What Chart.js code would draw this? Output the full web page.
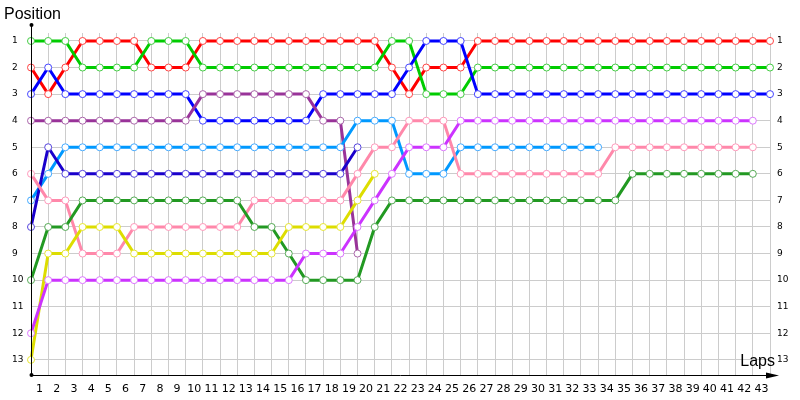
<!DOCTYPE html>
<html>
<head>
<meta charset="utf-8">
<script src="https://cdn.jsdelivr.net/npm/chart.js@4/dist/chart.umd.min.js"></script>
<style>
    body { margin: 0; background: #fff; }
</style>
</head>
<body>
<canvas id="chart" width="800" height="400"></canvas>
<script>
// lap labels (lap 0 = grid, left unlabeled)
const lapLabels = ['', '1', '2', '3', '4', '5', '6', '7', '8', '9', '10', '11', '12', '13', '14', '15',
    '16', '17', '18', '19', '20', '21', '22', '23', '24', '25', '26', '27', '28', '29', '30', '31', '32',
    '33', '34', '35', '36', '37', '38', '39', '40', '41', '42', '43'];
const positionTicks = [1, 2, 3, 4, 5, 6, 7, 8, 9, 10, 11, 12, 13];

// position per lap, starting at lap 0
const red = [2, 3, 2, 1, 1, 1, 1, 2, 2, 2, 1, 1, 1, 1, 1, 1, 1, 1, 1, 1, 1, 2, 3, 2, 2, 2,
    1, 1, 1, 1, 1, 1, 1, 1, 1, 1, 1, 1, 1, 1, 1, 1, 1, 1];
const green = [1, 1, 1, 2, 2, 2, 2, 1, 1, 1, 2, 2, 2, 2, 2, 2, 2, 2, 2, 2, 2, 1, 1, 3, 3, 3,
    2, 2, 2, 2, 2, 2, 2, 2, 2, 2, 2, 2, 2, 2, 2, 2, 2, 2];
const blue = [3, 2, 3, 3, 3, 3, 3, 3, 3, 3, 4, 4, 4, 4, 4, 4, 4, 3, 3, 3, 3, 3, 2, 1, 1, 1,
    3, 3, 3, 3, 3, 3, 3, 3, 3, 3, 3, 3, 3, 3, 3, 3, 3, 3];
const purple = [4, 4, 4, 4, 4, 4, 4, 4, 4, 4, 3, 3, 3, 3, 3, 3, 3, 4, 4, 9];
const lightBlue = [7, 6, 5, 5, 5, 5, 5, 5, 5, 5, 5, 5, 5, 5, 5, 5, 5, 5, 5, 4, 4, 4, 6, 6, 6,
    5, 5, 5, 5, 5, 5, 5, 5, 5];
const indigo = [8, 5, 6, 6, 6, 6, 6, 6, 6, 6, 6, 6, 6, 6, 6, 6, 6, 6, 6, 5];
const pink = [6, 7, 7, 9, 9, 9, 8, 8, 8, 8, 8, 8, 8, 7, 7, 7, 7, 7, 7, 6, 5, 5, 4, 4, 4,
    6, 6, 6, 6, 6, 6, 6, 6, 6, 5, 5, 5, 5, 5, 5, 5, 5, 5];
const darkGreen = [10, 8, 8, 7, 7, 7, 7, 7, 7, 7, 7, 7, 7, 8, 8, 9, 10, 10, 10, 10, 8,
    7, 7, 7, 7, 7, 7, 7, 7, 7, 7, 7, 7, 7, 7, 6, 6, 6, 6, 6, 6, 6, 6];
const yellow = [13, 9, 9, 8, 8, 8, 9, 9, 9, 9, 9, 9, 9, 9, 9, 8, 8, 8, 8, 7, 6];
const violet = [12, 10, 10, 10, 10, 10, 10, 10, 10, 10, 10, 10, 10, 10, 10, 10, 9, 9, 9, 8, 7, 6,
    5, 5, 5, 4, 4, 4, 4, 4, 4, 4, 4, 4, 4, 4, 4, 4, 4, 4, 4, 4, 4];

const series = [
    { data: violet, line: '#cc33ff', point: '#dd77ff' },
    { data: yellow, line: '#dddd00', point: '#e6e633' },
    { data: darkGreen, line: '#229922', point: '#55aa55' },
    { data: pink, line: '#ff88aa', point: '#ff99bb' },
    { data: indigo, line: '#1a00cc', point: '#5544dd' },
    { data: lightBlue, line: '#0099ff', point: '#44aaff' },
    { data: purple, line: '#993399', point: '#aa66aa' },
    { data: blue, line: '#0000ff', point: '#4444ff' },
    { data: green, line: '#00cc00', point: '#44cc44' },
    { data: red, line: '#ff0000', point: '#ff4444' }
];

const axisDecor = {
    id: 'axisDecor',
    afterDraw(chart) {
        const ctx = chart.ctx;
        const area = chart.chartArea;
        ctx.save();
        ctx.strokeStyle = '#000';
        ctx.fillStyle = '#000';
        ctx.lineWidth = 1;
        // y axis
        ctx.beginPath();
        ctx.moveTo(area.left + 0.5, 25);
        ctx.lineTo(area.left + 0.5, area.bottom);
        ctx.stroke();
        ctx.beginPath();
        ctx.arc(area.left + 0.5, 25, 2, 0, Math.PI * 2);
        ctx.fill();
        ctx.beginPath();
        ctx.arc(area.left + 0.5, area.bottom, 2, 0, Math.PI * 2);
        ctx.fill();
        // x axis with arrow
        ctx.beginPath();
        ctx.moveTo(area.left, area.bottom + 0.5);
        ctx.lineTo(770, area.bottom + 0.5);
        ctx.stroke();
        ctx.beginPath();
        ctx.moveTo(766, area.bottom - 2.5);
        ctx.lineTo(779, area.bottom + 0.5);
        ctx.lineTo(766, area.bottom + 3.5);
        ctx.closePath();
        ctx.fill();
        // axis titles
        ctx.font = '16px "Liberation Sans", Arial, sans-serif';
        ctx.textBaseline = 'middle';
        ctx.textAlign = 'left';
        ctx.fillText('Position', 4, 15);
        ctx.textAlign = 'right';
        ctx.fillText('Laps', 775, 362);
        ctx.restore();
    }
};

function fixedWidth(w) {
    return function(scale) { scale.width = w; };
}

new Chart('chart', {
    type: 'line',
    data: {
        labels: lapLabels,
        datasets: series.map(s => ({
            data: s.data,
            borderColor: s.line,
            borderWidth: 3,
            pointRadius: 3.5,
            pointHoverRadius: 3.5,
            pointBorderWidth: 1,
            pointBorderColor: s.point,
            pointBackgroundColor: '#ffffff',
            tension: 0,
            fill: false
        }))
    },
    options: {
        responsive: false,
        animation: false,
        layout: { padding: { top: 33, left: 12, right: 0, bottom: 0 } },
        plugins: {
            legend: { display: false },
            tooltip: { enabled: false }
        },
        scales: {
            x: {
                type: 'category',
                offset: false,
                grid: { color: '#cccccc', drawTicks: false },
                border: { display: false },
                ticks: {
                    autoSkip: false,
                    maxRotation: 0,
                    labelOffset: -8.6,
                    padding: 8,
                    color: '#000',
                    font: { family: 'DejaVu Sans', size: 11 }
                },
                afterFit: function(scale) { scale.height = 25; }
            },
            y: {
                type: 'linear',
                position: 'left',
                reverse: true,
                min: 0.7,
                max: 13.57,
                afterBuildTicks: function(scale) {
                    scale.ticks = positionTicks.map(v => ({ value: v }));
                },
                grid: { color: '#cccccc', drawTicks: false },
                border: { display: false },
                ticks: {
                    crossAlign: 'far',
                    padding: 0,
                    color: '#000',
                    font: { family: 'DejaVu Sans', size: 9 }
                },
                afterFit: fixedWidth(19)
            },
            y2: {
                type: 'linear',
                position: 'right',
                reverse: true,
                min: 0.7,
                max: 13.57,
                afterBuildTicks: function(scale) {
                    scale.ticks = positionTicks.map(v => ({ value: v }));
                },
                grid: { display: false, drawTicks: false },
                border: { display: false },
                ticks: {
                    padding: 7,
                    color: '#000',
                    font: { family: 'DejaVu Sans', size: 9 }
                },
                afterFit: fixedWidth(30)
            }
        }
    },
    plugins: [axisDecor]
});
</script>
</body>
</html>
